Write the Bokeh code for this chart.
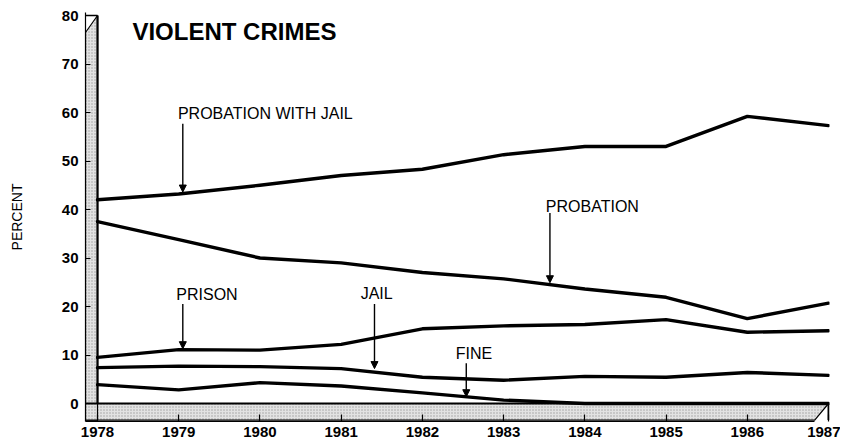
from bokeh.plotting import figure
from bokeh.models import Range1d, FixedTicker, Arrow, NormalHead
from bokeh.core.properties import value
from bokeh.embed import file_html
from bokeh.resources import INLINE

# ---- data ----
years = [1978, 1979, 1980, 1981, 1982, 1983, 1984, 1985, 1986, 1987]
probation_with_jail = [42.0, 43.2, 45.0, 47.0, 48.3, 51.3, 53.0, 53.0, 59.2, 57.3]
probation = [37.5, 33.8, 30.0, 29.0, 27.0, 25.7, 23.6, 21.9, 17.5, 20.7]
prison = [9.5, 11.1, 11.0, 12.2, 15.4, 16.0, 16.3, 17.3, 14.7, 15.0]
jail = [7.4, 7.7, 7.6, 7.2, 5.4, 4.8, 5.6, 5.4, 6.4, 5.8]
fine = [3.9, 2.8, 4.3, 3.6, 2.2, 0.7, 0.0, 0.0, 0.0, 0.0]
y_ticks = [0, 10, 20, 30, 40, 50, 60, 70, 80]
title_text = "VIOLENT CRIMES"

# annotation labels: (text, text x, text y, arrow x, arrow top y, arrow tip y)
labels = [
    ("PROBATION WITH JAIL", 1978.99, 59.7, 1979.05, 57.7, 43.6),
    ("PROBATION", 1983.52, 40.7, 1983.57, 39.3, 24.9),
    ("PRISON", 1978.97, 22.5, 1979.05, 20.5, 11.3),
    ("JAIL", 1981.24, 22.7, 1981.41, 20.5, 7.2),
    ("FINE", 1982.41, 10.3, 1982.54, 8.3, 1.4),
]

X0, X1 = 1977.852, 1987.012
Y0, Y1 = -3.711, 80.62
FONT = "Liberation Sans"

p = figure(width=840, height=444,
           x_range=Range1d(X0, X1), y_range=Range1d(Y0, Y1),
           output_backend="svg", toolbar_location=None,
           min_border_left=85, min_border_right=11,
           min_border_top=12, min_border_bottom=23)
p.outline_line_color = None
p.grid.visible = False
p.background_fill_color = "white"

# axes
p.yaxis.ticker = FixedTicker(ticks=y_ticks)
p.xaxis.ticker = FixedTicker(ticks=years)
for ax in (p.xaxis, p.yaxis):
    ax.major_label_text_font = FONT
    ax.major_label_text_font_style = "bold"
    ax.major_label_text_font_size = "15px"
    ax.major_label_text_color = "black"
    ax.major_tick_out = 0
    ax.minor_tick_line_color = None
    ax.axis_line_color = "black"
    ax.axis_line_width = 1.2
    ax.major_tick_line_color = "black"
    ax.major_tick_line_width = 1.2
p.yaxis.major_tick_in = 5
p.xaxis.major_tick_in = 7
p.yaxis.major_label_standoff = 7
p.xaxis.major_label_standoff = 5
p.xaxis.bounds = (X0, 1986.83)
p.yaxis.axis_label = "PERCENT"
p.yaxis.axis_label_text_font = FONT
p.yaxis.axis_label_text_font_style = "normal"
p.yaxis.axis_label_text_font_size = "14px"
p.yaxis.axis_label_text_color = "black"
p.yaxis.axis_label_standoff = 34

# shaded 3-D axis bars
shade = dict(fill_color="#e2e2e2", hatch_pattern="dot", hatch_scale=3,
             hatch_color="#707070", hatch_alpha=0.6, hatch_weight=1,
             line_color="black", line_width=1.2)
p.patch([X0, 1987, 1986.83, X0], [0, 0, Y0 + 0.3, Y0 + 0.3], **shade)
p.patch([X0, 1978, 1978, X0], [Y0 + 0.3, Y0 + 0.3, 80, 76.5], **shade)
p.line([X0, 1978], [80, 80], line_color="black", line_width=1.5)
p.line([1978, 1978], [0, 80], line_color="black", line_width=2.2)
p.line([X0, 1987], [0, 0], line_color="black", line_width=2.2)
p.line([1987, 1987], [0, Y0 + 0.3], line_color="black", line_width=2)

# series
for series in (probation_with_jail, probation, prison, jail, fine):
    p.line(years, series, line_color="black", line_width=3.4,
           line_join="round", line_cap="round")

# title
p.text(x=[1978.43], y=[76.7], text=[title_text], text_font=value(FONT),
       text_font_style="bold", text_font_size="24px",
       text_baseline="middle", text_align="left", text_color="black")

# annotations
for txt, tx, ty, ax_, ay0, ay1 in labels:
    p.text(x=[tx], y=[ty], text=[txt], text_font=value(FONT),
           text_font_size="16px", text_baseline="middle", text_align="left",
           text_color="black")
    p.add_layout(Arrow(end=NormalHead(size=7, fill_color="black",
                                      line_color="black"),
                       x_start=ax_, y_start=ay0, x_end=ax_, y_end=ay1,
                       line_color="black", line_width=1.4))

open("out.html", "w").write(file_html(p, INLINE))
